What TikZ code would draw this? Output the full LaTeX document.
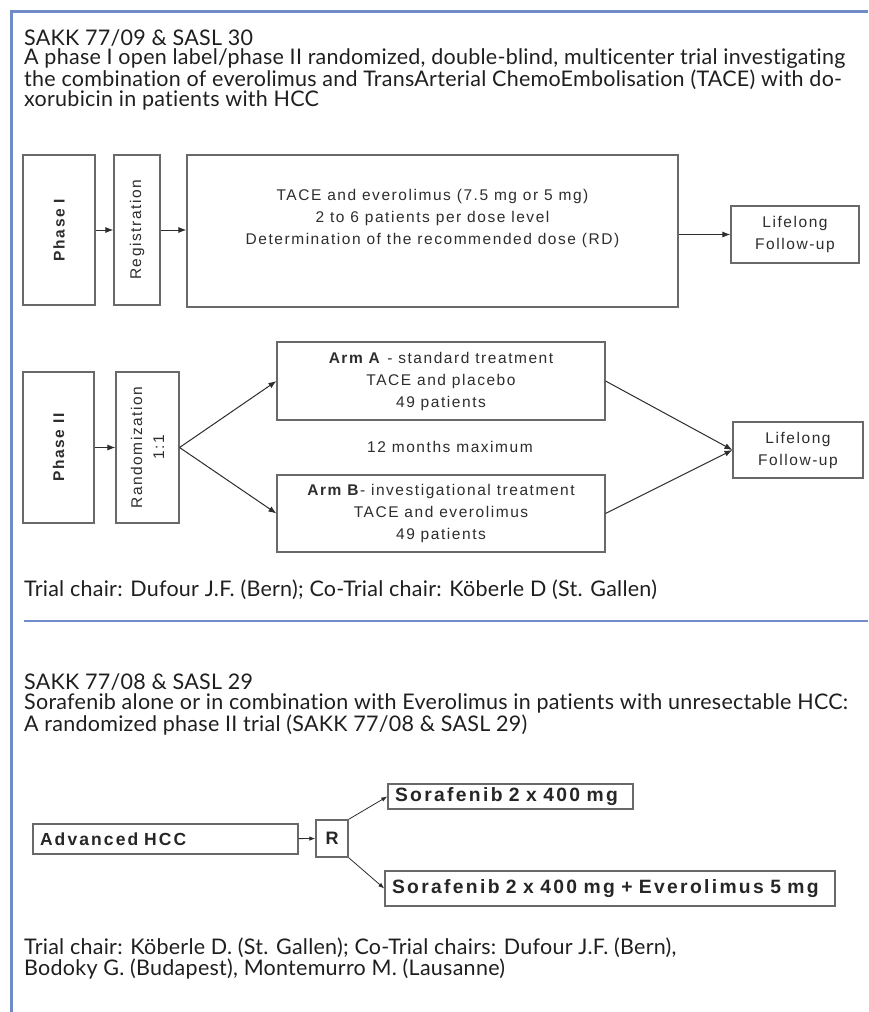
\documentclass[tikz,border=0pt]{standalone}
\usepackage{fontspec}
\setmainfont[LetterSpace=1.2, Ligatures=NoCommon]{Lato}
\newfontfamily\chartfont[LetterSpace=10]{Liberation Sans}
\newfontfamily\armfont[LetterSpace=12]{Liberation Sans}
\usetikzlibrary{arrows.meta,positioning}
\definecolor{framebl}{RGB}{112,140,198}
\definecolor{boxgray}{RGB}{105,105,105}
\definecolor{chartink}{RGB}{45,45,45}

\begin{document}
\begin{tikzpicture}[x=1pt, y=-1pt,
    box/.style={draw=boxgray, line width=1.1pt, fill=white, inner sep=0pt, align=center,
      text=chartink, font=\chartfont\fontsize{15.5}{22}\selectfont},
    vbox/.style={box, rotate=90},
    chartlbl/.style={inner sep=0pt, align=center, text=chartink, font=\chartfont\fontsize{15.5}{22}\selectfont},
    drugbox/.style={draw=boxgray, line width=1.4pt, fill=white, inner xsep=7pt, inner ysep=0pt,
      align=left, text=black!85, font=\armfont\bfseries\fontsize{19.3}{20}\selectfont},
    arr/.style={-{Latex[length=8pt,width=6pt]}, line width=1pt, draw=chartink},
    thinarr/.style={-{Latex[length=6pt,width=4.5pt]}, line width=0.8pt, draw=chartink},
    heading/.style={anchor=base west, align=left, inner sep=0pt, text=black!88,
      font=\fontsize{21.5}{19.7}\selectfont},
    rule/.style={draw=framebl, line width=3pt}
  ]
  \useasboundingbox[fill=white] (0,0) rectangle (868,1012);

  %% Frame and separator
  \draw[rule] (868,11) -- (11,11) -- (11,1012);
  \draw[rule, line width=2.5pt] (24,621) -- (868,621);

  %% Trial SAKK 77/09
  \node[heading] (headA) at (24,106) {SAKK 77/09 \& SASL 30\\
    A phase I open label/phase II randomized, double-blind, multicenter trial investigating\\
    the combination of everolimus and TransArterial ChemoEmbolisation (TACE) with do-\\
    xorubicin in patients with HCC};

  %% Phase I row
  \node[vbox, minimum width=150, minimum height=72] (ph1) at (59,230) {\bfseries Phase I};
  \node[vbox, minimum width=150, minimum height=46] (reg) at (137,230) {Registration};
  \node[box, minimum width=491, minimum height=152] (dosebox) at (432.5,231) {};
  \node[chartlbl] (dosetext) at (432.5,218)
    {TACE and everolimus (7.5 mg or 5 mg)\\2 to 6 patients per dose level\\Determination of the recommended dose (RD)};
  \node[box, minimum width=128, minimum height=57] (life1) at (795,234.5) {Lifelong\\Follow-up};

  \draw[arr] (ph1) -- (reg);
  \draw[arr] (reg) -- (reg -| dosebox.west);
  \draw[arr] (dosebox.east |- life1.west) -- (life1.west);

  %% Phase II row
  \node[vbox, minimum width=151, minimum height=71] (ph2) at (58.5,447.5) {\bfseries Phase II};
  \node[vbox, minimum width=151, minimum height=63] (rand) at (147.5,447.5) {Randomization\\1:1};
  \node[box, minimum width=328, minimum height=78] (armA) at (441,381)
    {\textbf{Arm A} - standard treatment\\TACE and placebo\\49 patients};
  \node[box, minimum width=328, minimum height=77] (armB) at (441,513.5)
    {\textbf{Arm B}- investigational treatment\\TACE and everolimus\\49 patients};
  \node[chartlbl] (maxlbl) at (450,447) {12 months maximum};
  \node[box, minimum width=130, minimum height=56] (life2) at (798,450) {Lifelong\\Follow-up};

  \draw[arr] (ph2) -- (rand);
  \draw[arr] (rand.south) -- (armA.west);
  \draw[arr] (rand.south) -- (armB.west);
  \draw[arr] (armA.east) -- (life2.west);
  \draw[arr] (armB.east) -- (life2.west);

  \node[heading] (chairA) at (24,596)
    {Trial chair: Dufour J.F. (Bern); Co-Trial chair: Köberle D (St. Gallen)};

  %% Trial SAKK 77/08
  \node[heading] (headB) at (24,731) {SAKK 77/08 \& SASL 29\\
    Sorafenib alone or in combination with Everolimus in patients with unresectable HCC:\\
    A randomized phase II trial (SAKK 77/08 \& SASL 29)};

  \node[drugbox, font=\armfont\bfseries\fontsize{17.5}{20}\selectfont, minimum height=30,
    text width=251, minimum width=265] (hcc) at (165.5,839) {Advanced HCC};
  \node[drugbox, inner xsep=0pt, minimum width=32, minimum height=37, align=center,
    font=\armfont\bfseries\fontsize{18}{20}\selectfont] (rbox) at (332,838.5) {R};
  \node[drugbox, minimum height=25, text width=231, minimum width=245] (sor1) at (510.5,796.5) {Sorafenib 2 x 400 mg};
  \node[drugbox, minimum height=35, text width=436, minimum width=450] (sor2) at (610,888.5)
    {Sorafenib 2 x 400 mg + Everolimus 5 mg};

  \draw[thinarr] (hcc) -- (rbox);
  \draw[thinarr] (rbox.north east) -- (sor1.west);
  \draw[thinarr] (rbox.south east) -- (sor2.west);

  \node[heading] (chairB) at (24,975)
    {Trial chair: Köberle D. (St. Gallen); Co-Trial chairs: Dufour J.F. (Bern),\\
    Bodoky G. (Budapest), Montemurro M. (Lausanne)};

\end{tikzpicture}
\end{document}
